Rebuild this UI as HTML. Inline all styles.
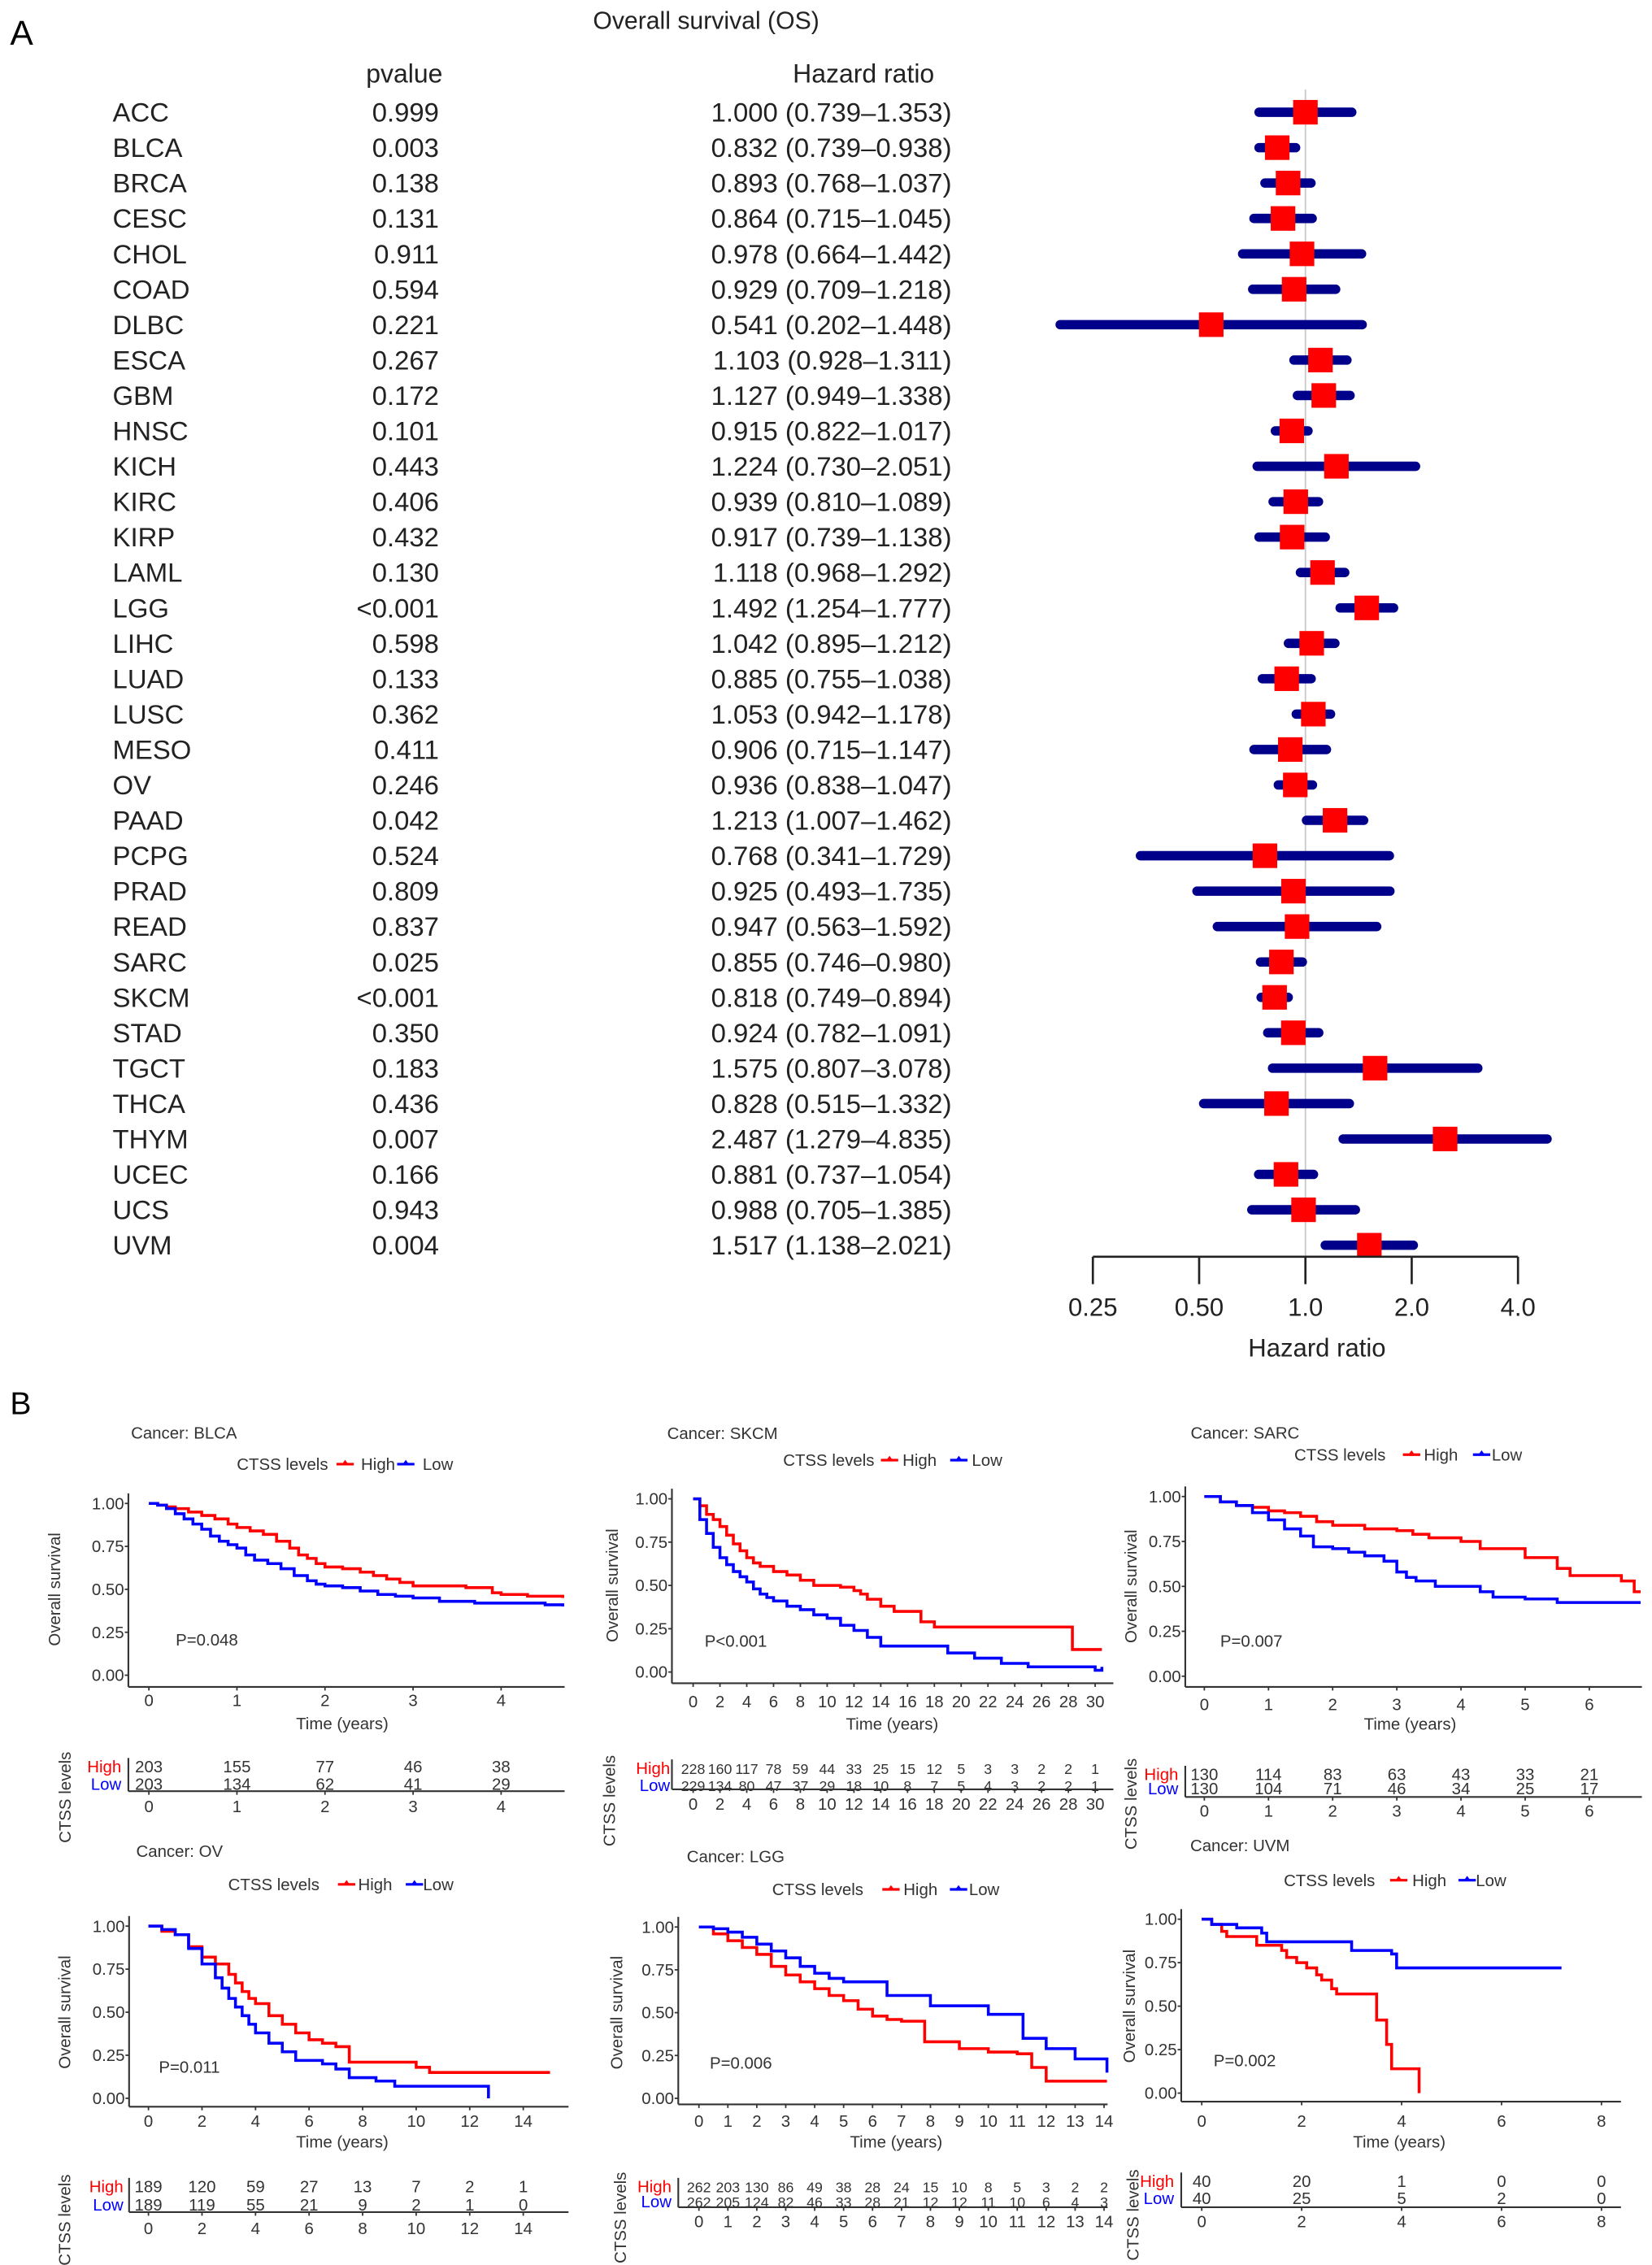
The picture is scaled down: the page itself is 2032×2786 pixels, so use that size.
<!DOCTYPE html>
<html><head><meta charset="utf-8"><style>
html,body{margin:0;padding:0;background:#fff;}
svg{display:block;font-family:"Liberation Sans",Arial,sans-serif;}
</style></head><body>
<svg id="fig" xmlns="http://www.w3.org/2000/svg" width="2032" height="2786" viewBox="0 0 1144 1568" preserveAspectRatio="none">
<rect x="0" y="0" width="1144" height="1568" fill="#fff"/>
<text x="7" y="31" font-size="24" fill="#000">A</text>
<text x="489" y="20" font-size="17" text-anchor="middle" fill="#222">Overall survival (OS)</text>
<text x="280" y="57" font-size="18" text-anchor="middle" fill="#222">pvalue</text>
<text x="598" y="57" font-size="18" text-anchor="middle" fill="#222">Hazard ratio</text>
<text x="7" y="979" font-size="22" fill="#000">B</text>
<g id="forest"></g>
<g id="km"></g>
</svg>
<script>
// ---------- Forest plot data ----------
const cancers = ["ACC","BLCA","BRCA","CESC","CHOL","COAD","DLBC","ESCA","GBM","HNSC","KICH","KIRC","KIRP","LAML","LGG","LIHC","LUAD","LUSC","MESO","OV","PAAD","PCPG","PRAD","READ","SARC","SKCM","STAD","TGCT","THCA","THYM","UCEC","UCS","UVM"];
const pvalues = ["0.999","0.003","0.138","0.131","0.911","0.594","0.221","0.267","0.172","0.101","0.443","0.406","0.432","0.130","<0.001","0.598","0.133","0.362","0.411","0.246","0.042","0.524","0.809","0.837","0.025","<0.001","0.350","0.183","0.436","0.007","0.166","0.943","0.004"];
const hr = [1.000,0.832,0.893,0.864,0.978,0.929,0.541,1.103,1.127,0.915,1.224,0.939,0.917,1.118,1.492,1.042,0.885,1.053,0.906,0.936,1.213,0.768,0.925,0.947,0.855,0.818,0.924,1.575,0.828,2.487,0.881,0.988,1.517];
const hrLow = [0.739,0.739,0.768,0.715,0.664,0.709,0.202,0.928,0.949,0.822,0.730,0.810,0.739,0.968,1.254,0.895,0.755,0.942,0.715,0.838,1.007,0.341,0.493,0.563,0.746,0.749,0.782,0.807,0.515,1.279,0.737,0.705,1.138];
const hrHigh = [1.353,0.938,1.037,1.045,1.442,1.218,1.448,1.311,1.338,1.017,2.051,1.089,1.138,1.292,1.777,1.212,1.038,1.178,1.147,1.047,1.462,1.729,1.735,1.592,0.980,0.894,1.091,3.078,1.332,4.835,1.054,1.385,2.021];
const hrTicks = [0.25,0.5,1,2,4];
const hrTickLabels = ["0.25","0.50","1.0","2.0","4.0"];

// ---------- KM data: [time, survival] step points ----------
const blcaHigh = [[0,1],[0.1,0.99],[0.2,0.98],[0.3,0.97],[0.45,0.95],[0.6,0.93],[0.75,0.91],[0.9,0.88],[1.0,0.86],[1.15,0.84],[1.3,0.82],[1.45,0.78],[1.6,0.74],[1.7,0.70],[1.8,0.68],[1.9,0.65],[2.0,0.63],[2.2,0.62],[2.4,0.60],[2.55,0.58],[2.7,0.56],[2.85,0.54],[3.0,0.52],[3.6,0.51],[3.9,0.48],[4.0,0.47],[4.3,0.46],[4.7,0.45]];
const blcaLow = [[0,1],[0.1,0.99],[0.2,0.97],[0.3,0.94],[0.4,0.91],[0.5,0.88],[0.6,0.85],[0.7,0.81],[0.8,0.78],[0.9,0.76],[1.0,0.74],[1.1,0.70],[1.2,0.67],[1.35,0.65],[1.5,0.62],[1.65,0.58],[1.8,0.55],[1.9,0.53],[2.0,0.52],[2.2,0.51],[2.4,0.49],[2.6,0.47],[2.8,0.46],[3.0,0.45],[3.3,0.43],[3.7,0.42],[4.5,0.41],[4.7,0.40]];
const skcmHigh = [[0,1],[0.5,0.96],[1,0.91],[1.5,0.88],[2,0.84],[2.5,0.79],[3,0.74],[3.5,0.70],[4,0.66],[4.5,0.63],[5,0.61],[6,0.58],[7,0.56],[8,0.53],[9,0.50],[11,0.49],[12,0.47],[12.5,0.45],[13,0.42],[14,0.38],[15,0.35],[16.5,0.35],[17,0.29],[18,0.26],[28.3,0.13],[30.5,0.13]];
const skcmLow = [[0,1],[0.5,0.88],[1,0.8],[1.5,0.72],[2,0.66],[2.5,0.62],[3,0.58],[3.5,0.55],[4,0.52],[4.5,0.48],[5,0.45],[5.5,0.43],[6,0.41],[7,0.38],[8,0.36],[9,0.33],[10,0.31],[11,0.27],[12,0.24],[13,0.20],[14,0.15],[19,0.11],[21,0.08],[23,0.05],[25,0.03],[30,0.01],[30.5,0.03]];
const sarcHigh = [[0,1],[0.25,0.97],[0.5,0.95],[0.75,0.94],[1,0.92],[1.25,0.91],[1.5,0.89],[1.75,0.86],[2,0.84],[2.5,0.82],[3,0.81],[3.25,0.79],[3.5,0.77],[4,0.75],[4.3,0.71],[5.0,0.66],[5.5,0.60],[5.7,0.56],[6.5,0.53],[6.7,0.47],[6.8,0.47]];
const sarcLow = [[0,1],[0.25,0.97],[0.5,0.95],[0.75,0.91],[1,0.87],[1.25,0.82],[1.5,0.78],[1.7,0.72],[2,0.71],[2.25,0.69],[2.5,0.67],[2.8,0.64],[3.0,0.58],[3.15,0.55],[3.3,0.53],[3.6,0.50],[4.3,0.47],[4.5,0.44],[5.0,0.43],[5.5,0.41],[6.8,0.41]];
const ovHigh = [[0,1],[0.5,0.97],[1,0.95],[1.5,0.88],[2,0.82],[2.5,0.78],[3,0.72],[3.25,0.67],[3.5,0.62],[3.75,0.58],[4,0.55],[4.5,0.48],[5,0.43],[5.5,0.38],[6,0.34],[6.5,0.32],[7,0.30],[7.5,0.21],[10,0.18],[10.5,0.15],[15,0.15]];
const ovLow = [[0,1],[0.5,0.98],[1,0.95],[1.5,0.87],[2,0.78],[2.5,0.70],[2.75,0.64],[3,0.58],[3.25,0.53],[3.5,0.48],[3.75,0.43],[4,0.38],[4.5,0.32],[5,0.27],[5.5,0.22],[6.5,0.20],[7,0.17],[7.5,0.12],[8.5,0.10],[9.2,0.07],[12.7,0.0]];
const lggHigh = [[0,1],[0.5,0.96],[1,0.92],[1.5,0.88],[2,0.84],[2.5,0.77],[3,0.72],[3.5,0.68],[4,0.64],[4.5,0.60],[5,0.57],[5.5,0.52],[6,0.48],[6.5,0.46],[7,0.45],[7.8,0.33],[9,0.29],[10,0.27],[11,0.26],[11.5,0.18],[12,0.10],[14.1,0.10]];
const lggLow = [[0,1],[0.5,0.99],[1,0.97],[1.5,0.94],[2,0.90],[2.5,0.86],[3,0.82],[3.5,0.77],[4,0.73],[4.5,0.70],[5,0.68],[6.5,0.60],[8,0.54],[10,0.49],[11.2,0.35],[12,0.29],[13,0.23],[14.1,0.15]];
const uvmHigh = [[0,1],[0.2,0.97],[0.4,0.93],[0.5,0.90],[1.1,0.85],[1.6,0.82],[1.7,0.78],[1.9,0.75],[2.1,0.72],[2.3,0.68],[2.4,0.65],[2.6,0.60],[2.7,0.57],[3.5,0.42],[3.7,0.28],[3.8,0.14],[4.35,0.0]];
const uvmLow = [[0,1],[0.2,0.97],[0.7,0.95],[1.2,0.92],[1.3,0.87],[3.0,0.82],[3.8,0.80],[3.9,0.72],[7.2,0.72]];

const blcaRiskHigh=[203,155,77,46,38], blcaRiskLow=[203,134,62,41,29];
const skcmRiskHigh=[228,160,117,78,59,44,33,25,15,12,5,3,3,2,2,1], skcmRiskLow=[229,134,80,47,37,29,18,10,8,7,5,4,3,2,2,1];
const sarcRiskHigh=[130,114,83,63,43,33,21], sarcRiskLow=[130,104,71,46,34,25,17];
const ovRiskHigh=[189,120,59,27,13,7,2,1], ovRiskLow=[189,119,55,21,9,2,1,0];
const lggRiskHigh=[262,203,130,86,49,38,28,24,15,10,8,5,3,2,2], lggRiskLow=[262,205,124,82,46,33,28,21,12,12,11,10,6,4,3];
const uvmRiskHigh=[40,20,1,0,0], uvmRiskLow=[40,25,5,2,0];
const pTexts = ["P=0.048","P<0.001","P=0.007","P=0.011","P=0.006","P=0.002"];
const cancerNames = ["BLCA","SKCM","SARC","OV","LGG","UVM"];
const survTicks = [0,0.25,0.5,0.75,1];
const survTickLabels = ["0.00","0.25","0.50","0.75","1.00"];

const NS="http://www.w3.org/2000/svg";
function mk(parent, tag, attrs, txt){
  const e=document.createElementNS(NS,tag);
  for(const k in attrs) e.setAttribute(k,attrs[k]);
  if(txt!==undefined) e.textContent=txt;
  parent.appendChild(e); return e;
}

// ---------- Forest ----------
(function(){
  const g=document.getElementById('forest');
  const rowY0=77.7, rowStep=24.51, xOne=904, perLog2=73.6;
  const xs=v=>xOne+perLog2*Math.log2(v);
  const axisY=870;
  let e=mk(g,'line',{x1:xOne,x2:xOne,y1:62,y2:axisY,stroke:'#c8c8c8','stroke-width':1});
   
  cancers.forEach((c,i)=>{
    const y=rowY0+i*rowStep;
    let t=mk(g,'text',{x:78,y:y+6.5,'font-size':18.5,fill:'#222'},c);
     
    t=mk(g,'text',{x:304,y:y+6.5,'font-size':18.5,fill:'#222','text-anchor':'end'},pvalues[i]);
     
    t=mk(g,'text',{x:659,y:y+6.5,'font-size':18.5,fill:'#222','text-anchor':'end'},hr[i].toFixed(3)+' ('+hrLow[i].toFixed(3)+'\u2013'+hrHigh[i].toFixed(3)+')');
     
    const b=mk(g,'line',{x1:xs(hrLow[i]),x2:xs(hrHigh[i]),y1:y,y2:y,stroke:'#00008b','stroke-width':6.5,'stroke-linecap':'round'});
     
    const s=mk(g,'rect',{x:xs(hr[i])-8.5,y:y-8.5,width:17,height:17,fill:'#ff0000'});
     
  });
  e=mk(g,'line',{x1:xs(0.25),x2:xs(4),y1:axisY,y2:axisY,stroke:'#222','stroke-width':1.5});
   
  hrTicks.forEach((v,i)=>{
    const tk=mk(g,'line',{x1:xs(v),x2:xs(v),y1:axisY,y2:889,stroke:'#222','stroke-width':1.5});
     
    const tl=mk(g,'text',{x:xs(v),y:911,'font-size':17.5,'text-anchor':'middle',fill:'#222'},hrTickLabels[i]);
     
  });
  e=mk(g,'text',{x:912,y:939,'font-size':17.5,'text-anchor':'middle',fill:'#222'},'Hazard ratio');
   
})();

// ---------- KM panels ----------
const panelLayouts = [
 {ax:88.9,x0:103.1,px:60.98,xe:391,y1:1040.8,y0:1159.7,ay:1167.8,tl:1177,tm:1193,tcx:237,tx:90.7,ty:992,ly:1013.6,lc:164,hm:239,ht:250,lm:281,lt:292.7,pxp:121.7,pyp:1135,yl:37.6,rh:1223,rl:1235,ra:1240,rt:1250.4,rtm:1261.5,rc:45,lr:84,step:1,rf:11.5},
 {ax:465.3,x0:480,px:9.28,xe:771,y1:1037.6,y0:1157.5,ay:1165.3,tl:1178,tm:1193.4,tcx:617.8,tx:462,ty:992.3,ly:1010.8,lc:542.3,hm:616,ht:625,lm:664,lt:673,pxp:488,pyp:1136,yl:424,rh:1224,rl:1235.8,ra:1238.7,rt:1248.8,rtm:1265.3,rc:422,lr:464,step:2,rf:10},
 {ax:820.8,x0:834,px:44.43,xe:1137,y1:1036,y0:1160.4,ay:1167.8,tl:1180,tm:1193.4,tcx:976.5,tx:824.5,ty:992,ly:1007,lc:896.3,hm:977.5,ht:986,lm:1026,lt:1033,pxp:845,pyp:1136,yl:783,rh:1228.4,rl:1238,ra:1244,rt:1253.7,rtm:1265.3,rc:783,lr:816,step:1,rf:11.5},
 {ax:89.4,x0:102.8,px:18.54,xe:393.7,y1:1333.4,y0:1452.6,ay:1458.4,tl:1468.4,tm:1482.8,tcx:237,tx:94.3,ty:1281.4,ly:1304.5,lc:158,hm:240,ht:248,lm:287,lt:293,pxp:110,pyp:1431,yl:44.7,rh:1513.7,rl:1526.2,ra:1531.4,rt:1542.6,rtm:1556,rc:44.7,lr:85.4,step:2,rf:11.5},
 {ax:469.7,x0:484,px:20.04,xe:767,y1:1334,y0:1452.6,ay:1456.8,tl:1468.4,tm:1482.8,tcx:620.6,tx:475.6,ty:1285.2,ly:1308,lc:534.7,hm:617,ht:625.6,lm:663.8,lt:671,pxp:491.5,pyp:1428,yl:427,rh:1513.7,rl:1524,ra:1528,rt:1537.8,rtm:1552.8,rc:429.5,lr:465,step:1,rf:10},
 {ax:818,x0:832.2,px:34.6,xe:1122.5,y1:1328.6,y0:1449,ay:1454.9,tl:1468.4,tm:1482.8,tcx:969,tx:824.2,ty:1277.5,ly:1301.6,lc:889,hm:968.6,ht:978,lm:1016,lt:1022,pxp:840.4,pyp:1426.5,yl:781.9,rh:1510,rl:1521.8,ra:1528,rt:1537.8,rtm:1552.8,rc:784.4,lr:813,step:2,rf:11.5}
];
const highSeries=[blcaHigh,skcmHigh,sarcHigh,ovHigh,lggHigh,uvmHigh];
const lowSeries=[blcaLow,skcmLow,sarcLow,ovLow,lggLow,uvmLow];
const riskHigh=[blcaRiskHigh,skcmRiskHigh,sarcRiskHigh,ovRiskHigh,lggRiskHigh,uvmRiskHigh];
const riskLow=[blcaRiskLow,skcmRiskLow,sarcRiskLow,ovRiskLow,lggRiskLow,uvmRiskLow];

(function(){
  const root=document.getElementById('km');
  const FS=11.5, TXT='#333', AX='#333', RED='#ff0000', BLUE='#0000ff';
  panelLayouts.forEach((L,pi)=>{
    const g=mk(root,'g',{});
    
    
    const X=t=>L.x0+L.px*t, Y=s=>L.y0-(L.y0-L.y1)*s;
    let e=mk(g,'text',{x:L.tx,y:L.ty+4,'font-size':FS,fill:TXT},'Cancer: '+cancerNames[pi]);
     
    e=mk(g,'text',{x:L.lc,y:L.ly+4,'font-size':FS,fill:TXT},'CTSS levels');
     
    [[L.hm,RED,L.ht,'High'],[L.lm,BLUE,L.lt,'Low']].forEach(([mx,col,tx,lab])=>{
      const lg=mk(g,'g',{});
      
      
      mk(lg,'line',{x1:mx-6,x2:mx+6,y1:L.ly,y2:L.ly,stroke:col,'stroke-width':1.8});
      mk(lg,'path',{d:`M${mx-2.5},${L.ly+0.5}L${mx},${L.ly-3}L${mx+2.5},${L.ly+0.5}Z`,fill:col});
      mk(lg,'text',{x:tx,y:L.ly+4,'font-size':FS,fill:TXT},lab);
    });
    e=mk(g,'line',{x1:L.ax,x2:L.ax,y1:L.y1-7,y2:L.ay,stroke:AX,'stroke-width':1.2});
     
    e=mk(g,'line',{x1:L.ax,x2:L.xe,y1:L.ay,y2:L.ay,stroke:AX,'stroke-width':1.2});
     
    survTicks.forEach((v,i)=>{
      mk(g,'line',{x1:L.ax-2.5,x2:L.ax,y1:Y(v),y2:Y(v),stroke:AX,'stroke-width':1});
      const t=mk(g,'text',{x:L.ax-3,y:Y(v)+4,'font-size':FS,fill:TXT,'text-anchor':'end'},survTickLabels[i]);
       
    });
    const nT=riskHigh[pi].length;
    for(let k=0;k<nT;k++){
      const tv=k*L.step, x=X(tv);
      mk(g,'line',{x1:x,x2:x,y1:L.ay,y2:L.ay+2.5,stroke:AX,'stroke-width':1});
      let t=mk(g,'text',{x:x,y:L.tl+4,'font-size':FS,fill:TXT,'text-anchor':'middle'},String(tv));
       
      mk(g,'line',{x1:x,x2:x,y1:L.ra,y2:L.ra+2.5,stroke:AX,'stroke-width':1});
      t=mk(g,'text',{x:x,y:L.rt+4,'font-size':FS,fill:TXT,'text-anchor':'middle'},String(tv));
       
      t=mk(g,'text',{x:x,y:L.rh+4,'font-size':L.rf,fill:TXT,'text-anchor':'middle'},String(riskHigh[pi][k]));
       
      t=mk(g,'text',{x:x,y:L.rl+4,'font-size':L.rf,fill:TXT,'text-anchor':'middle'},String(riskLow[pi][k]));
       
    }
    e=mk(g,'text',{x:L.tcx,y:L.tm+4,'font-size':FS,fill:TXT,'text-anchor':'middle'},'Time (years)');
     
    const cy=(L.y1+L.y0)/2;
    e=mk(g,'text',{x:0,y:0,'font-size':FS,fill:TXT,'text-anchor':'middle',transform:`translate(${L.yl+4},${cy}) rotate(-90)`},'Overall survival');
     
    [[highSeries[pi],RED,'curve-high'],[lowSeries[pi],BLUE,'curve-low']].forEach(([ser,col,nm])=>{
      let d=`M${X(ser[0][0])},${Y(ser[0][1])}`;
      for(let i=1;i<ser.length;i++) d+=`H${X(ser[i][0])}V${Y(ser[i][1])}`;
      const p=mk(g,'path',{d:d,fill:'none',stroke:col,'stroke-width':2});
       
    });
    e=mk(g,'text',{x:L.pxp,y:L.pyp+4,'font-size':FS,fill:TXT},pTexts[pi]);
     
    e=mk(g,'line',{x1:L.ax,x2:L.ax,y1:L.rh-6,y2:L.ra,stroke:AX,'stroke-width':1.2});
     
    e=mk(g,'line',{x1:L.ax,x2:L.xe,y1:L.ra,y2:L.ra,stroke:AX,'stroke-width':1.2});
     
    e=mk(g,'text',{x:L.lr,y:L.rh+4,'font-size':FS,fill:RED,'text-anchor':'end'},'High');
     
    e=mk(g,'text',{x:L.lr,y:L.rl+4,'font-size':FS,fill:BLUE,'text-anchor':'end'},'Low');
     
    e=mk(g,'text',{x:0,y:0,'font-size':FS,fill:TXT,'text-anchor':'middle',transform:`translate(${L.rc+4},${(L.rh+L.rtm)/2+2}) rotate(-90)`},'CTSS levels');
     
  });
})();
</script>
</body></html>
